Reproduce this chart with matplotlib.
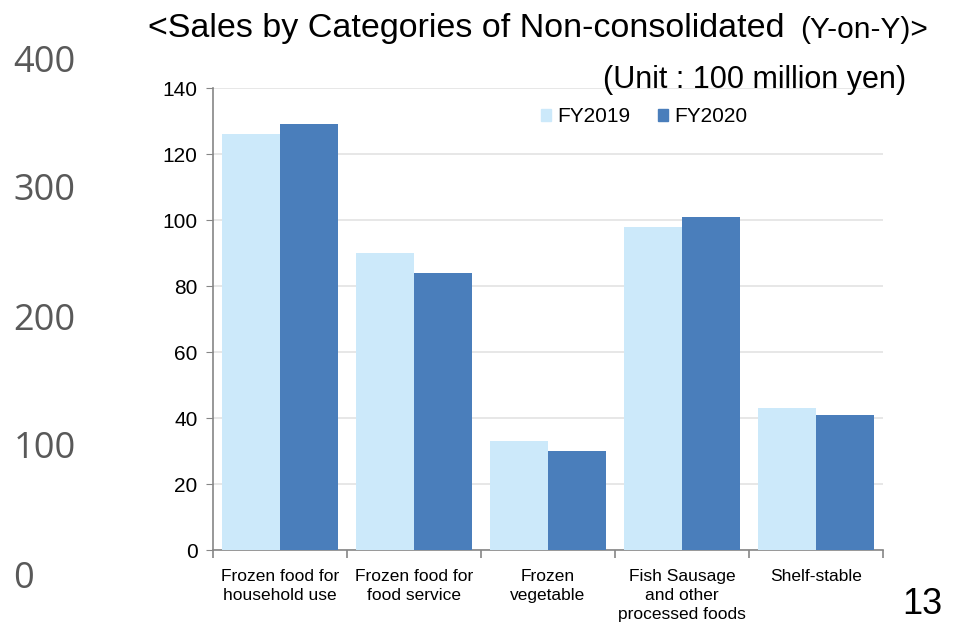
import numpy as np
import matplotlib
matplotlib.use("Agg")
import matplotlib.pyplot as plt
from matplotlib.patches import Patch

categories = [
    "Frozen food for\nhousehold use",
    "Frozen food for\nfood service",
    "Frozen\nvegetable",
    "Fish Sausage\nand other\nprocessed foods",
    "Shelf-stable",
]
fy2019 = [126, 90, 33, 98, 43]
fy2020 = [129, 84, 30, 101, 41]
y_ticks = [0, 20, 40, 60, 80, 100, 120, 140]
slide_scale = [0, 100, 200, 300, 400]   # leftover axis from the slide behind

C19 = "#cce9fa"
C20 = "#4a7ebb"
W, H = 955, 629

plt.rcParams["font.family"] = ["Liberation Sans", "DejaVu Sans"]

fig = plt.figure(figsize=(W / 100, H / 100), dpi=100)


def box(l, t, r, b):
    return [l / W, 1 - b / H, (r - l) / W, (b - t) / H]


# gray 0-400 scale on the far left
ax2 = fig.add_axes(box(14, 58, 15, 574))
ax2.set_ylim(0, 400)
ax2.set_yticks(slide_scale)
ax2.yaxis.tick_right()
ax2.tick_params(axis="y", length=0, pad=-1, labelsize=26, labelcolor="#595959")
for lab in ax2.get_yticklabels():
    lab.set_family(["Open Sans", "DejaVu Sans"])
ax2.set_xticks([])
for s in ax2.spines.values():
    s.set_visible(False)
ax2.patch.set_alpha(0)

ax = fig.add_axes(box(213, 88, 883, 550))
x = np.arange(len(categories))
w = 0.43
ax.bar(x - w / 2, fy2019, w, color=C19, zorder=3)
ax.bar(x + w / 2, fy2020, w, color=C20, zorder=3)

ax.set_xlim(-0.5, len(categories) - 0.5)
ax.set_ylim(0, 140)
ax.set_yticks(y_ticks)
ax.grid(axis="y", color="#e3e3e3", linewidth=1.2, zorder=0)
ax.tick_params(axis="y", direction="out", length=5, color="#868686",
               labelsize=15, pad=6)
ax.set_xticks(x)
ax.set_xticklabels(categories, fontsize=12.5, linespacing=1.3)
ax.tick_params(axis="x", which="major", length=0, pad=14)
ax.set_xticks(np.arange(-0.5, len(categories), 1), minor=True)
ax.tick_params(axis="x", which="minor", direction="out", length=6,
               color="#868686", width=1.2)
for s in ["top", "right"]:
    ax.spines[s].set_visible(False)
for s in ["left", "bottom"]:
    ax.spines[s].set_color("#868686")
    ax.spines[s].set_linewidth(1.2)

handles = [Patch(color=C19), Patch(color=C20)]
ax.legend(handles, ["FY2019", "FY2020"], loc="upper left",
          bbox_to_anchor=((541 - 213) / 670, 1 - (107 - 88) / 462),
          ncol=2, frameon=False, fontsize=15, handlelength=0.5,
          handleheight=0.5, handletextpad=0.3, columnspacing=1.3,
          borderaxespad=0, borderpad=0)

fig.text(148 / W, 1 - 28 / H, "<Sales by Categories of Non-consolidated",
         fontsize=24.5, va="center", ha="left")
fig.text(800 / W, 1 - 30 / H, "(Y-on-Y)>", fontsize=21.5, va="center",
         ha="left")
fig.text(906 / W, 1 - 80 / H, "(Unit : 100 million yen)", fontsize=22,
         va="center", ha="right")
fig.text(942 / W, 1 - 604 / H, "13", fontsize=26, va="center", ha="right")

fig.savefig("out.png", dpi=100)
